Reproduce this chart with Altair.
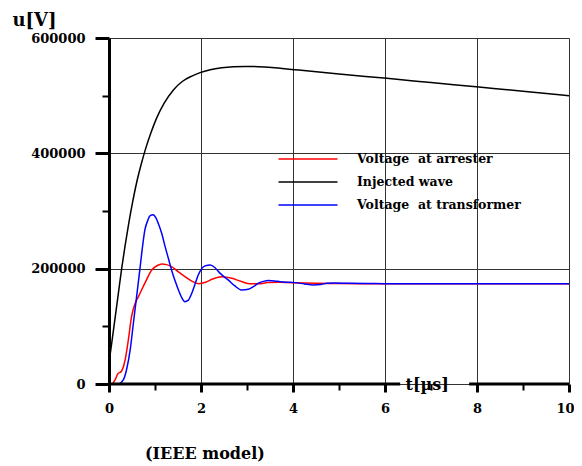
import altair as alt
import pandas as pd

# Injected wave (black)
t_inj = [0, 0.1, 0.2, 0.275, 0.35, 0.43, 0.51, 0.6, 0.7, 0.8, 0.9, 1.04, 1.2, 1.4, 1.6, 1.8, 1.98,
         2.2, 2.45, 2.7, 2.96, 3.25, 3.54, 4.04, 5, 6.04, 7, 8.04, 9, 10]
v_inj = [36000, 95000, 155000, 200000, 240000, 279000, 314000, 349000, 381000, 409000, 433000,
         462000, 487000, 510000, 525000, 534000, 540000, 545000, 548400, 550200, 550700, 550300,
         549000, 545000, 537500, 530000, 522800, 515000, 507800, 500000]

# Voltage at arrester (red)
t_arr = [0, 0.06, 0.13, 0.2, 0.26, 0.35, 0.42, 0.49, 0.57, 0.64, 0.78, 0.93, 1.05, 1.15, 1.25, 1.36,
         1.5, 1.65, 1.8, 1.95, 2.1, 2.25, 2.45, 2.67, 2.85, 3.05, 3.25, 3.45, 3.7, 4.0, 4.5, 5, 6, 7,
         8, 9, 10]
v_arr = [0, 0, 7000, 18500, 21000, 41600, 76000, 116800, 140000, 151500, 174800, 197800, 205500,
         208300, 207000, 203600, 195000, 186200, 178500, 174000, 176500, 182000, 186000, 183400,
         178500, 174000, 173800, 175800, 176500, 175500, 174500, 174200, 174000, 174000, 174000,
         174000, 174000]

# Voltage at transformer (blue)
t_trf = [0, 0.2, 0.31, 0.38, 0.46, 0.53, 0.6, 0.67, 0.72, 0.78, 0.84, 0.89, 0.96, 1.02, 1.07, 1.15,
         1.22, 1.29, 1.36, 1.44, 1.51, 1.58, 1.65, 1.72, 1.8, 1.87, 1.94, 2.02, 2.09, 2.2, 2.3, 2.38,
         2.48, 2.59, 2.73, 2.88, 3.03, 3.14, 3.25, 3.36, 3.46, 3.6, 3.72, 3.88, 4.04, 4.25, 4.44, 4.6,
         4.73, 4.9, 5.2, 5.6, 6, 7, 8, 9, 10]
v_trf = [0, 0, 7000, 24300, 59000, 105300, 151500, 197800, 232500, 267300, 283000, 291600, 293300,
         288000, 278800, 260000, 238200, 218000, 197800, 178000, 163100, 150000, 142800, 145000,
         157400, 173000, 189000, 200500, 204800, 206500, 202000, 194900, 187500, 180500, 170500,
         163100, 164300, 169000, 174800, 178000, 179300, 178800, 177500, 176500, 175800, 173500,
         171800, 172500, 174800, 175200, 174500, 174200, 174000, 174000, 174000, 174000, 174000]

series_names = ["Voltage\u00a0 at arrester", "Injected wave", "Voltage\u00a0 at transformer"]
series_colors = ["#ff0000", "#000000", "#0000ff"]

x_ticks = list(range(0, 11))
y_ticks = [0, 100000, 200000, 300000, 400000, 500000, 600000]

# x-axis line drawn in two pieces, leaving a gap for the axis title
axis_start = [0, 7.83]
axis_end = [6.33, 10]

rows = []
for name, ts, vs in [(series_names[0], t_arr, v_arr),
                     (series_names[1], t_inj, v_inj),
                     (series_names[2], t_trf, v_trf)]:
    for i, (t, v) in enumerate(zip(ts, vs)):
        rows.append({"t": t, "u": v, "series": name, "i": i})
df = pd.DataFrame(rows)
axis_df = pd.DataFrame({"a": axis_start, "b": axis_end})

FONT = "DejaVu Serif"

x_scale = alt.Scale(domain=[0, 10], nice=False, zero=False)
y_scale = alt.Scale(domain=[0, 600000], nice=False)

x_axis = alt.Axis(
    values=x_ticks,
    title="t[µs]",
    titleX=296, titleY=5, titleAlign="left", titleBaseline="alphabetic",
    titleFont=FONT, titleFontSize=16, titleFontWeight="bold", titleColor="black",
    labelExpr="datum.value % 2 === 0 ? datum.label : ''",
    labelFont=FONT, labelFontSize=13, labelFontWeight="bold", labelColor="black",
    labelPadding=10, labelFlush=False,
    labelOffset={"condition": {"test": "datum.value === 10", "value": -4}, "value": 0},
    domain=False,
    tickColor="black",
    tickSize={"condition": {"test": "datum.value % 2 === 0", "value": 8}, "value": 6},
    tickWidth={"condition": {"test": "datum.value % 2 === 0", "value": 3}, "value": 2},
    grid=True, gridColor="#333333", gridWidth=1,
    gridOpacity={"condition": {"test": "datum.value % 2 === 0", "value": 1}, "value": 0},
)

y_axis = alt.Axis(
    values=y_ticks,
    format="d",
    title="u[V]",
    titleAngle=0, titleX=-97, titleY=-13, titleAlign="left", titleBaseline="alphabetic",
    titleFont=FONT, titleFontSize=18, titleFontWeight="bold", titleColor="black",
    labelExpr="datum.value % 200000 === 0 ? datum.label : ''",
    labelFont=FONT, labelFontSize=13, labelFontWeight="bold", labelColor="black",
    labelPadding=10, labelFlush=False,
    domain=True, domainColor="black", domainWidth=3,
    tickColor="black",
    tickSize={"condition": {"test": "datum.value % 200000 === 0", "value": 14}, "value": 7},
    tickWidth={"condition": {"test": "datum.value % 200000 === 0", "value": 3}, "value": 2},
    grid=True, gridColor="#333333", gridWidth=1,
    gridOpacity={"condition": {"test": "datum.value % 200000 === 0", "value": 1}, "value": 0},
)

lines = alt.Chart(df).mark_line(strokeWidth=1.5, interpolate="monotone").encode(
    x=alt.X("t:Q", scale=x_scale, axis=x_axis),
    y=alt.Y("u:Q", scale=y_scale, axis=y_axis),
    color=alt.Color(
        "series:N",
        scale=alt.Scale(domain=series_names, range=series_colors),
        sort=series_names,
        legend=alt.Legend(
            orient="none", legendX=188, legendY=110, title=None,
            symbolType="M-2.95,0H2.95", symbolSize=400, symbolStrokeWidth=1.5,
            labelOffset=38, rowPadding=5, labelLimit=400,
            labelFont=FONT, labelFontSize=12.5, labelFontWeight="bold", labelColor="black",
        ),
    ),
    order="i:Q",
)

axis_line = alt.Chart(axis_df).mark_rule(color="black", strokeWidth=3).encode(
    x=alt.X("a:Q", scale=x_scale),
    x2="b:Q",
    y=alt.datum(0),
)

chart = alt.layer(lines, axis_line).properties(
    width=460,
    height=346,
    autosize=alt.AutoSizeParams(type="none"),
    padding={"left": 101, "top": 30, "right": 5, "bottom": 80},
    background="white",
    title=alt.TitleParams(
        text="(IEEE model)", orient="bottom", anchor="start", dx=133, offset=31,
        font=FONT, fontSize=16, fontWeight="bold", color="black",
    ),
).configure_view(stroke=None)

chart.save("out.html", embed_options={"renderer": "svg", "actions": False})
